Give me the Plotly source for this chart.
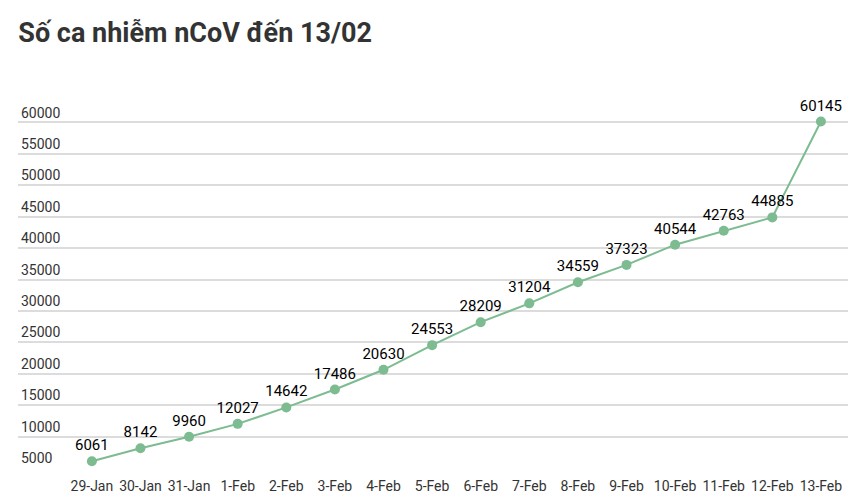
import plotly.graph_objects as go

dates = ["29-Jan", "30-Jan", "31-Jan", "1-Feb", "2-Feb", "3-Feb", "4-Feb", "5-Feb",
         "6-Feb", "7-Feb", "8-Feb", "9-Feb", "10-Feb", "11-Feb", "12-Feb", "13-Feb"]
cases = [6061, 8142, 9960, 12027, 14642, 17486, 20630, 24553,
         28209, 31204, 34559, 37323, 40544, 42763, 44885, 60145]
y_ticks = list(range(5000, 65001, 5000))

x_idx = list(range(len(dates)))

fig = go.Figure(go.Scatter(
    x=x_idx, y=cases,
    mode="lines+markers+text",
    line=dict(color="#7dbb90", width=2),
    marker=dict(color="#7dbb90", size=10),
    text=[str(c) for c in cases],
    textposition="top center",
    textfont=dict(family="Roboto", size=15, color="#000"),
    cliponaxis=False,
))

fig.update_layout(
    width=856, height=501,
    margin=dict(l=10, r=11, t=83, b=41, autoexpand=False),
    plot_bgcolor="white", paper_bgcolor="white",
    showlegend=False,
    font=dict(family="Roboto", color="#333"),
    title=dict(text="<b>Số ca nhiễm nCoV đến 13/02</b>", x=0.012, xanchor="left",
               y=0.97, yanchor="top", font=dict(family="Roboto", size=27, color="#333")),
)
fig.update_xaxes(
    tickvals=x_idx, ticktext=dates, range=[-1.52, 15.66],
    showgrid=False, zeroline=False, showline=False,
    tickfont=dict(size=14, color="#333"), ticks="", ticklabelstandoff=8,
)
fig.update_yaxes(
    range=[5000, 65000.1], tickvals=y_ticks, ticktext=[str(v) for v in y_ticks],
    ticklabelposition="inside top",
    showgrid=True, gridcolor="#dcdcdc", gridwidth=1.5, zeroline=False,
    tickfont=dict(size=14, color="#333"),
)

fig.write_html("out.html")
